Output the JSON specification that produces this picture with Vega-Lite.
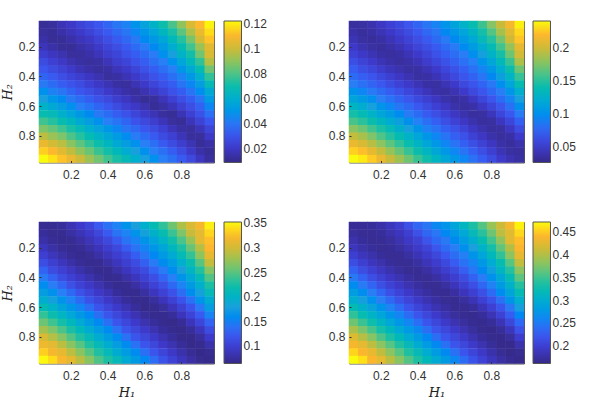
{"$schema":"https://vega.github.io/schema/vega-lite/v6.json","padding":{"left":0,"top":20,"right":0,"bottom":0},"background":"white","bounds":"flush","spacing":{"row":59,"column":135},"columns":2,"resolve":{"scale":{"color":"independent"}},
"config":{"view":{"stroke":"#555","strokeWidth":1},"axisX":{"labelPadding":9,"titlePadding":5},"axisY":{"labelPadding":6,"titlePadding":4},"axis":{"labelFont":"Liberation Sans","labelFontSize":12,"labelColor":"#333","domain":false,"tickColor":"#333","tickSize":-2,"labelAngle":0,"titleFont":"DejaVu Serif","titleFontStyle":"italic","titleFontWeight":"normal","titleFontSize":13,"titleColor":"#222"},"legend":{"labelFont":"Liberation Sans","labelFontSize":12,"labelColor":"#333","labelOffset":6}},
"datasets":{
"p1":[
{"x":0.05,"y":0.05,"v":0.012},{"x":0.1,"y":0.05,"v":0.013},{"x":0.15,"y":0.05,"v":0.017},{"x":0.2,"y":0.05,"v":0.02},{"x":0.25,"y":0.05,"v":0.024},{"x":0.3,"y":0.05,"v":0.027},{"x":0.35,"y":0.05,"v":0.031},{"x":0.4,"y":0.05,"v":0.035},{"x":0.45,"y":0.05,"v":0.04},{"x":0.5,"y":0.05,"v":0.044},{"x":0.55,"y":0.05,"v":0.049},{"x":0.6,"y":0.05,"v":0.055},{"x":0.65,"y":0.05,"v":0.062},{"x":0.7,"y":0.05,"v":0.07},{"x":0.75,"y":0.05,"v":0.079},{"x":0.8,"y":0.05,"v":0.09},{"x":0.85,"y":0.05,"v":0.103},{"x":0.9,"y":0.05,"v":0.111},{"x":0.95,"y":0.05,"v":0.121},
{"x":0.05,"y":0.1,"v":0.013},{"x":0.1,"y":0.1,"v":0.012},{"x":0.15,"y":0.1,"v":0.015},{"x":0.2,"y":0.1,"v":0.018},{"x":0.25,"y":0.1,"v":0.021},{"x":0.3,"y":0.1,"v":0.024},{"x":0.35,"y":0.1,"v":0.028},{"x":0.4,"y":0.1,"v":0.032},{"x":0.45,"y":0.1,"v":0.036},{"x":0.5,"y":0.1,"v":0.04},{"x":0.55,"y":0.1,"v":0.045},{"x":0.6,"y":0.1,"v":0.05},{"x":0.65,"y":0.1,"v":0.056},{"x":0.7,"y":0.1,"v":0.064},{"x":0.75,"y":0.1,"v":0.072},{"x":0.8,"y":0.1,"v":0.082},{"x":0.85,"y":0.1,"v":0.095},{"x":0.9,"y":0.1,"v":0.107},{"x":0.95,"y":0.1,"v":0.117},
{"x":0.05,"y":0.15,"v":0.015},{"x":0.1,"y":0.15,"v":0.012},{"x":0.15,"y":0.15,"v":0.012},{"x":0.2,"y":0.15,"v":0.015},{"x":0.25,"y":0.15,"v":0.018},{"x":0.3,"y":0.15,"v":0.02},{"x":0.35,"y":0.15,"v":0.024},{"x":0.4,"y":0.15,"v":0.028},{"x":0.45,"y":0.15,"v":0.032},{"x":0.5,"y":0.15,"v":0.036},{"x":0.55,"y":0.15,"v":0.041},{"x":0.6,"y":0.15,"v":0.046},{"x":0.65,"y":0.15,"v":0.051},{"x":0.7,"y":0.15,"v":0.057},{"x":0.75,"y":0.15,"v":0.065},{"x":0.8,"y":0.15,"v":0.074},{"x":0.85,"y":0.15,"v":0.086},{"x":0.9,"y":0.15,"v":0.102},{"x":0.95,"y":0.15,"v":0.113},
{"x":0.05,"y":0.2,"v":0.018},{"x":0.1,"y":0.2,"v":0.015},{"x":0.15,"y":0.2,"v":0.012},{"x":0.2,"y":0.2,"v":0.012},{"x":0.25,"y":0.2,"v":0.015},{"x":0.3,"y":0.2,"v":0.017},{"x":0.35,"y":0.2,"v":0.021},{"x":0.4,"y":0.2,"v":0.025},{"x":0.45,"y":0.2,"v":0.028},{"x":0.5,"y":0.2,"v":0.032},{"x":0.55,"y":0.2,"v":0.037},{"x":0.6,"y":0.2,"v":0.042},{"x":0.65,"y":0.2,"v":0.046},{"x":0.7,"y":0.2,"v":0.052},{"x":0.75,"y":0.2,"v":0.059},{"x":0.8,"y":0.2,"v":0.068},{"x":0.85,"y":0.2,"v":0.078},{"x":0.9,"y":0.2,"v":0.092},{"x":0.95,"y":0.2,"v":0.105},
{"x":0.05,"y":0.25,"v":0.022},{"x":0.1,"y":0.25,"v":0.019},{"x":0.15,"y":0.25,"v":0.016},{"x":0.2,"y":0.25,"v":0.013},{"x":0.25,"y":0.25,"v":0.013},{"x":0.3,"y":0.25,"v":0.015},{"x":0.35,"y":0.25,"v":0.018},{"x":0.4,"y":0.25,"v":0.022},{"x":0.45,"y":0.25,"v":0.025},{"x":0.5,"y":0.25,"v":0.029},{"x":0.55,"y":0.25,"v":0.033},{"x":0.6,"y":0.25,"v":0.037},{"x":0.65,"y":0.25,"v":0.042},{"x":0.7,"y":0.25,"v":0.048},{"x":0.75,"y":0.25,"v":0.054},{"x":0.8,"y":0.25,"v":0.062},{"x":0.85,"y":0.25,"v":0.071},{"x":0.9,"y":0.25,"v":0.085},{"x":0.95,"y":0.25,"v":0.103},
{"x":0.05,"y":0.3,"v":0.027},{"x":0.1,"y":0.3,"v":0.023},{"x":0.15,"y":0.3,"v":0.02},{"x":0.2,"y":0.3,"v":0.016},{"x":0.25,"y":0.3,"v":0.014},{"x":0.3,"y":0.3,"v":0.013},{"x":0.35,"y":0.3,"v":0.014},{"x":0.4,"y":0.3,"v":0.018},{"x":0.45,"y":0.3,"v":0.022},{"x":0.5,"y":0.3,"v":0.025},{"x":0.55,"y":0.3,"v":0.029},{"x":0.6,"y":0.3,"v":0.033},{"x":0.65,"y":0.3,"v":0.038},{"x":0.7,"y":0.3,"v":0.043},{"x":0.75,"y":0.3,"v":0.048},{"x":0.8,"y":0.3,"v":0.056},{"x":0.85,"y":0.3,"v":0.065},{"x":0.9,"y":0.3,"v":0.076},{"x":0.95,"y":0.3,"v":0.096},
{"x":0.05,"y":0.35,"v":0.031},{"x":0.1,"y":0.35,"v":0.027},{"x":0.15,"y":0.35,"v":0.024},{"x":0.2,"y":0.35,"v":0.021},{"x":0.25,"y":0.35,"v":0.017},{"x":0.3,"y":0.35,"v":0.015},{"x":0.35,"y":0.35,"v":0.013},{"x":0.4,"y":0.35,"v":0.014},{"x":0.45,"y":0.35,"v":0.018},{"x":0.5,"y":0.35,"v":0.021},{"x":0.55,"y":0.35,"v":0.025},{"x":0.6,"y":0.35,"v":0.029},{"x":0.65,"y":0.35,"v":0.033},{"x":0.7,"y":0.35,"v":0.038},{"x":0.75,"y":0.35,"v":0.043},{"x":0.8,"y":0.35,"v":0.05},{"x":0.85,"y":0.35,"v":0.058},{"x":0.9,"y":0.35,"v":0.068},{"x":0.95,"y":0.35,"v":0.085},
{"x":0.05,"y":0.4,"v":0.035},{"x":0.1,"y":0.4,"v":0.032},{"x":0.15,"y":0.4,"v":0.028},{"x":0.2,"y":0.4,"v":0.025},{"x":0.25,"y":0.4,"v":0.022},{"x":0.3,"y":0.4,"v":0.019},{"x":0.35,"y":0.4,"v":0.016},{"x":0.4,"y":0.4,"v":0.013},{"x":0.45,"y":0.4,"v":0.014},{"x":0.5,"y":0.4,"v":0.017},{"x":0.55,"y":0.4,"v":0.021},{"x":0.6,"y":0.4,"v":0.025},{"x":0.65,"y":0.4,"v":0.029},{"x":0.7,"y":0.4,"v":0.033},{"x":0.75,"y":0.4,"v":0.038},{"x":0.8,"y":0.4,"v":0.044},{"x":0.85,"y":0.4,"v":0.051},{"x":0.9,"y":0.4,"v":0.06},{"x":0.95,"y":0.4,"v":0.076},
{"x":0.05,"y":0.45,"v":0.041},{"x":0.1,"y":0.45,"v":0.037},{"x":0.15,"y":0.45,"v":0.033},{"x":0.2,"y":0.45,"v":0.03},{"x":0.25,"y":0.45,"v":0.027},{"x":0.3,"y":0.45,"v":0.023},{"x":0.35,"y":0.45,"v":0.02},{"x":0.4,"y":0.45,"v":0.017},{"x":0.45,"y":0.45,"v":0.014},{"x":0.5,"y":0.45,"v":0.013},{"x":0.55,"y":0.45,"v":0.017},{"x":0.6,"y":0.45,"v":0.021},{"x":0.65,"y":0.45,"v":0.025},{"x":0.7,"y":0.45,"v":0.029},{"x":0.75,"y":0.45,"v":0.033},{"x":0.8,"y":0.45,"v":0.039},{"x":0.85,"y":0.45,"v":0.045},{"x":0.9,"y":0.45,"v":0.053},{"x":0.95,"y":0.45,"v":0.066},
{"x":0.05,"y":0.5,"v":0.048},{"x":0.1,"y":0.5,"v":0.044},{"x":0.15,"y":0.5,"v":0.04},{"x":0.2,"y":0.5,"v":0.035},{"x":0.25,"y":0.5,"v":0.031},{"x":0.3,"y":0.5,"v":0.028},{"x":0.35,"y":0.5,"v":0.025},{"x":0.4,"y":0.5,"v":0.021},{"x":0.45,"y":0.5,"v":0.018},{"x":0.5,"y":0.5,"v":0.015},{"x":0.55,"y":0.5,"v":0.013},{"x":0.6,"y":0.5,"v":0.016},{"x":0.65,"y":0.5,"v":0.02},{"x":0.7,"y":0.5,"v":0.024},{"x":0.75,"y":0.5,"v":0.029},{"x":0.8,"y":0.5,"v":0.033},{"x":0.85,"y":0.5,"v":0.039},{"x":0.9,"y":0.5,"v":0.047},{"x":0.95,"y":0.5,"v":0.058},
{"x":0.05,"y":0.55,"v":0.054},{"x":0.1,"y":0.55,"v":0.05},{"x":0.15,"y":0.55,"v":0.046},{"x":0.2,"y":0.55,"v":0.041},{"x":0.25,"y":0.55,"v":0.037},{"x":0.3,"y":0.55,"v":0.033},{"x":0.35,"y":0.55,"v":0.029},{"x":0.4,"y":0.55,"v":0.026},{"x":0.45,"y":0.55,"v":0.022},{"x":0.5,"y":0.55,"v":0.019},{"x":0.55,"y":0.55,"v":0.015},{"x":0.6,"y":0.55,"v":0.012},{"x":0.65,"y":0.55,"v":0.013},{"x":0.7,"y":0.55,"v":0.018},{"x":0.75,"y":0.55,"v":0.023},{"x":0.8,"y":0.55,"v":0.028},{"x":0.85,"y":0.55,"v":0.033},{"x":0.9,"y":0.55,"v":0.04},{"x":0.95,"y":0.55,"v":0.052},
{"x":0.05,"y":0.6,"v":0.062},{"x":0.1,"y":0.6,"v":0.058},{"x":0.15,"y":0.6,"v":0.053},{"x":0.2,"y":0.6,"v":0.048},{"x":0.25,"y":0.6,"v":0.043},{"x":0.3,"y":0.6,"v":0.039},{"x":0.35,"y":0.6,"v":0.035},{"x":0.4,"y":0.6,"v":0.031},{"x":0.45,"y":0.6,"v":0.027},{"x":0.5,"y":0.6,"v":0.023},{"x":0.55,"y":0.6,"v":0.02},{"x":0.6,"y":0.6,"v":0.016},{"x":0.65,"y":0.6,"v":0.012},{"x":0.7,"y":0.6,"v":0.014},{"x":0.75,"y":0.6,"v":0.018},{"x":0.8,"y":0.6,"v":0.023},{"x":0.85,"y":0.6,"v":0.028},{"x":0.9,"y":0.6,"v":0.034},{"x":0.95,"y":0.6,"v":0.045},
{"x":0.05,"y":0.65,"v":0.069},{"x":0.1,"y":0.65,"v":0.066},{"x":0.15,"y":0.65,"v":0.061},{"x":0.2,"y":0.65,"v":0.056},{"x":0.25,"y":0.65,"v":0.051},{"x":0.3,"y":0.65,"v":0.046},{"x":0.35,"y":0.65,"v":0.041},{"x":0.4,"y":0.65,"v":0.037},{"x":0.45,"y":0.65,"v":0.033},{"x":0.5,"y":0.65,"v":0.029},{"x":0.55,"y":0.65,"v":0.025},{"x":0.6,"y":0.65,"v":0.021},{"x":0.65,"y":0.65,"v":0.017},{"x":0.7,"y":0.65,"v":0.013},{"x":0.75,"y":0.65,"v":0.012},{"x":0.8,"y":0.65,"v":0.017},{"x":0.85,"y":0.65,"v":0.023},{"x":0.9,"y":0.65,"v":0.029},{"x":0.95,"y":0.65,"v":0.038},
{"x":0.05,"y":0.7,"v":0.078},{"x":0.1,"y":0.7,"v":0.074},{"x":0.15,"y":0.7,"v":0.069},{"x":0.2,"y":0.7,"v":0.064},{"x":0.25,"y":0.7,"v":0.058},{"x":0.3,"y":0.7,"v":0.053},{"x":0.35,"y":0.7,"v":0.048},{"x":0.4,"y":0.7,"v":0.043},{"x":0.45,"y":0.7,"v":0.039},{"x":0.5,"y":0.7,"v":0.035},{"x":0.55,"y":0.7,"v":0.03},{"x":0.6,"y":0.7,"v":0.026},{"x":0.65,"y":0.7,"v":0.022},{"x":0.7,"y":0.7,"v":0.018},{"x":0.75,"y":0.7,"v":0.013},{"x":0.8,"y":0.7,"v":0.012},{"x":0.85,"y":0.7,"v":0.018},{"x":0.9,"y":0.7,"v":0.024},{"x":0.95,"y":0.7,"v":0.031},
{"x":0.05,"y":0.75,"v":0.087},{"x":0.1,"y":0.75,"v":0.083},{"x":0.15,"y":0.75,"v":0.078},{"x":0.2,"y":0.75,"v":0.072},{"x":0.25,"y":0.75,"v":0.066},{"x":0.3,"y":0.75,"v":0.06},{"x":0.35,"y":0.75,"v":0.055},{"x":0.4,"y":0.75,"v":0.05},{"x":0.45,"y":0.75,"v":0.045},{"x":0.5,"y":0.75,"v":0.04},{"x":0.55,"y":0.75,"v":0.036},{"x":0.6,"y":0.75,"v":0.031},{"x":0.65,"y":0.75,"v":0.027},{"x":0.7,"y":0.75,"v":0.023},{"x":0.75,"y":0.75,"v":0.018},{"x":0.8,"y":0.75,"v":0.014},{"x":0.85,"y":0.75,"v":0.013},{"x":0.9,"y":0.75,"v":0.018},{"x":0.95,"y":0.75,"v":0.025},
{"x":0.05,"y":0.8,"v":0.097},{"x":0.1,"y":0.8,"v":0.092},{"x":0.15,"y":0.8,"v":0.087},{"x":0.2,"y":0.8,"v":0.08},{"x":0.25,"y":0.8,"v":0.074},{"x":0.3,"y":0.8,"v":0.068},{"x":0.35,"y":0.8,"v":0.062},{"x":0.4,"y":0.8,"v":0.057},{"x":0.45,"y":0.8,"v":0.052},{"x":0.5,"y":0.8,"v":0.047},{"x":0.55,"y":0.8,"v":0.042},{"x":0.6,"y":0.8,"v":0.037},{"x":0.65,"y":0.8,"v":0.032},{"x":0.7,"y":0.8,"v":0.027},{"x":0.75,"y":0.8,"v":0.023},{"x":0.8,"y":0.8,"v":0.018},{"x":0.85,"y":0.8,"v":0.013},{"x":0.9,"y":0.8,"v":0.013},{"x":0.95,"y":0.8,"v":0.02},
{"x":0.05,"y":0.85,"v":0.107},{"x":0.1,"y":0.85,"v":0.102},{"x":0.15,"y":0.85,"v":0.097},{"x":0.2,"y":0.85,"v":0.089},{"x":0.25,"y":0.85,"v":0.082},{"x":0.3,"y":0.85,"v":0.076},{"x":0.35,"y":0.85,"v":0.07},{"x":0.4,"y":0.85,"v":0.064},{"x":0.45,"y":0.85,"v":0.058},{"x":0.5,"y":0.85,"v":0.053},{"x":0.55,"y":0.85,"v":0.048},{"x":0.6,"y":0.85,"v":0.043},{"x":0.65,"y":0.85,"v":0.038},{"x":0.7,"y":0.85,"v":0.032},{"x":0.75,"y":0.85,"v":0.027},{"x":0.8,"y":0.85,"v":0.022},{"x":0.85,"y":0.85,"v":0.017},{"x":0.9,"y":0.85,"v":0.012},{"x":0.95,"y":0.85,"v":0.015},
{"x":0.05,"y":0.9,"v":0.115},{"x":0.1,"y":0.9,"v":0.111},{"x":0.15,"y":0.9,"v":0.105},{"x":0.2,"y":0.9,"v":0.098},{"x":0.25,"y":0.9,"v":0.09},{"x":0.3,"y":0.9,"v":0.084},{"x":0.35,"y":0.9,"v":0.077},{"x":0.4,"y":0.9,"v":0.071},{"x":0.45,"y":0.9,"v":0.065},{"x":0.5,"y":0.9,"v":0.059},{"x":0.55,"y":0.9,"v":0.054},{"x":0.6,"y":0.9,"v":0.048},{"x":0.65,"y":0.9,"v":0.043},{"x":0.7,"y":0.9,"v":0.038},{"x":0.75,"y":0.9,"v":0.033},{"x":0.8,"y":0.9,"v":0.027},{"x":0.85,"y":0.9,"v":0.021},{"x":0.9,"y":0.9,"v":0.015},{"x":0.95,"y":0.9,"v":0.012},
{"x":0.05,"y":0.95,"v":0.122},{"x":0.1,"y":0.95,"v":0.118},{"x":0.15,"y":0.95,"v":0.113},{"x":0.2,"y":0.95,"v":0.107},{"x":0.25,"y":0.95,"v":0.1},{"x":0.3,"y":0.95,"v":0.092},{"x":0.35,"y":0.95,"v":0.085},{"x":0.4,"y":0.95,"v":0.078},{"x":0.45,"y":0.95,"v":0.072},{"x":0.5,"y":0.95,"v":0.066},{"x":0.55,"y":0.95,"v":0.06},{"x":0.6,"y":0.95,"v":0.054},{"x":0.65,"y":0.95,"v":0.048},{"x":0.7,"y":0.95,"v":0.043},{"x":0.75,"y":0.95,"v":0.038},{"x":0.8,"y":0.95,"v":0.032},{"x":0.85,"y":0.95,"v":0.026},{"x":0.9,"y":0.95,"v":0.019},{"x":0.95,"y":0.95,"v":0.013}],
"p2":[
{"x":0.05,"y":0.05,"v":0.035},{"x":0.1,"y":0.05,"v":0.036},{"x":0.15,"y":0.05,"v":0.04},{"x":0.2,"y":0.05,"v":0.047},{"x":0.25,"y":0.05,"v":0.054},{"x":0.3,"y":0.05,"v":0.06},{"x":0.35,"y":0.05,"v":0.068},{"x":0.4,"y":0.05,"v":0.076},{"x":0.45,"y":0.05,"v":0.086},{"x":0.5,"y":0.05,"v":0.094},{"x":0.55,"y":0.05,"v":0.104},{"x":0.6,"y":0.05,"v":0.115},{"x":0.65,"y":0.05,"v":0.127},{"x":0.7,"y":0.05,"v":0.14},{"x":0.75,"y":0.05,"v":0.157},{"x":0.8,"y":0.05,"v":0.177},{"x":0.85,"y":0.05,"v":0.198},{"x":0.9,"y":0.05,"v":0.216},{"x":0.95,"y":0.05,"v":0.238},
{"x":0.05,"y":0.1,"v":0.038},{"x":0.1,"y":0.1,"v":0.034},{"x":0.15,"y":0.1,"v":0.037},{"x":0.2,"y":0.1,"v":0.042},{"x":0.25,"y":0.1,"v":0.048},{"x":0.3,"y":0.1,"v":0.055},{"x":0.35,"y":0.1,"v":0.062},{"x":0.4,"y":0.1,"v":0.07},{"x":0.45,"y":0.1,"v":0.078},{"x":0.5,"y":0.1,"v":0.086},{"x":0.55,"y":0.1,"v":0.096},{"x":0.6,"y":0.1,"v":0.106},{"x":0.65,"y":0.1,"v":0.116},{"x":0.7,"y":0.1,"v":0.129},{"x":0.75,"y":0.1,"v":0.145},{"x":0.8,"y":0.1,"v":0.163},{"x":0.85,"y":0.1,"v":0.187},{"x":0.9,"y":0.1,"v":0.208},{"x":0.95,"y":0.1,"v":0.23},
{"x":0.05,"y":0.15,"v":0.042},{"x":0.1,"y":0.15,"v":0.036},{"x":0.15,"y":0.15,"v":0.034},{"x":0.2,"y":0.15,"v":0.037},{"x":0.25,"y":0.15,"v":0.043},{"x":0.3,"y":0.15,"v":0.049},{"x":0.35,"y":0.15,"v":0.056},{"x":0.4,"y":0.15,"v":0.063},{"x":0.45,"y":0.15,"v":0.071},{"x":0.5,"y":0.15,"v":0.079},{"x":0.55,"y":0.15,"v":0.088},{"x":0.6,"y":0.15,"v":0.097},{"x":0.65,"y":0.15,"v":0.107},{"x":0.7,"y":0.15,"v":0.119},{"x":0.75,"y":0.15,"v":0.134},{"x":0.8,"y":0.15,"v":0.15},{"x":0.85,"y":0.15,"v":0.172},{"x":0.9,"y":0.15,"v":0.2},{"x":0.95,"y":0.15,"v":0.224},
{"x":0.05,"y":0.2,"v":0.048},{"x":0.1,"y":0.2,"v":0.041},{"x":0.15,"y":0.2,"v":0.036},{"x":0.2,"y":0.2,"v":0.034},{"x":0.25,"y":0.2,"v":0.038},{"x":0.3,"y":0.2,"v":0.043},{"x":0.35,"y":0.2,"v":0.05},{"x":0.4,"y":0.2,"v":0.057},{"x":0.45,"y":0.2,"v":0.064},{"x":0.5,"y":0.2,"v":0.071},{"x":0.55,"y":0.2,"v":0.08},{"x":0.6,"y":0.2,"v":0.089},{"x":0.65,"y":0.2,"v":0.098},{"x":0.7,"y":0.2,"v":0.109},{"x":0.75,"y":0.2,"v":0.122},{"x":0.8,"y":0.2,"v":0.138},{"x":0.85,"y":0.2,"v":0.158},{"x":0.9,"y":0.2,"v":0.182},{"x":0.95,"y":0.2,"v":0.21},
{"x":0.05,"y":0.25,"v":0.055},{"x":0.1,"y":0.25,"v":0.048},{"x":0.15,"y":0.25,"v":0.042},{"x":0.2,"y":0.25,"v":0.037},{"x":0.25,"y":0.25,"v":0.035},{"x":0.3,"y":0.25,"v":0.037},{"x":0.35,"y":0.25,"v":0.043},{"x":0.4,"y":0.25,"v":0.05},{"x":0.45,"y":0.25,"v":0.057},{"x":0.5,"y":0.25,"v":0.065},{"x":0.55,"y":0.25,"v":0.073},{"x":0.6,"y":0.25,"v":0.081},{"x":0.65,"y":0.25,"v":0.09},{"x":0.7,"y":0.25,"v":0.1},{"x":0.75,"y":0.25,"v":0.112},{"x":0.8,"y":0.25,"v":0.127},{"x":0.85,"y":0.25,"v":0.145},{"x":0.9,"y":0.25,"v":0.17},{"x":0.95,"y":0.25,"v":0.202},
{"x":0.05,"y":0.3,"v":0.064},{"x":0.1,"y":0.3,"v":0.056},{"x":0.15,"y":0.3,"v":0.05},{"x":0.2,"y":0.3,"v":0.043},{"x":0.25,"y":0.3,"v":0.038},{"x":0.3,"y":0.3,"v":0.035},{"x":0.35,"y":0.3,"v":0.038},{"x":0.4,"y":0.3,"v":0.043},{"x":0.45,"y":0.3,"v":0.051},{"x":0.5,"y":0.3,"v":0.058},{"x":0.55,"y":0.3,"v":0.066},{"x":0.6,"y":0.3,"v":0.074},{"x":0.65,"y":0.3,"v":0.083},{"x":0.7,"y":0.3,"v":0.092},{"x":0.75,"y":0.3,"v":0.103},{"x":0.8,"y":0.3,"v":0.117},{"x":0.85,"y":0.3,"v":0.133},{"x":0.9,"y":0.3,"v":0.156},{"x":0.95,"y":0.3,"v":0.19},
{"x":0.05,"y":0.35,"v":0.072},{"x":0.1,"y":0.35,"v":0.064},{"x":0.15,"y":0.35,"v":0.058},{"x":0.2,"y":0.35,"v":0.051},{"x":0.25,"y":0.35,"v":0.045},{"x":0.3,"y":0.35,"v":0.04},{"x":0.35,"y":0.35,"v":0.036},{"x":0.4,"y":0.35,"v":0.037},{"x":0.45,"y":0.35,"v":0.043},{"x":0.5,"y":0.35,"v":0.05},{"x":0.55,"y":0.35,"v":0.058},{"x":0.6,"y":0.35,"v":0.066},{"x":0.65,"y":0.35,"v":0.074},{"x":0.7,"y":0.35,"v":0.083},{"x":0.75,"y":0.35,"v":0.094},{"x":0.8,"y":0.35,"v":0.106},{"x":0.85,"y":0.35,"v":0.122},{"x":0.9,"y":0.35,"v":0.142},{"x":0.95,"y":0.35,"v":0.17},
{"x":0.05,"y":0.4,"v":0.08},{"x":0.1,"y":0.4,"v":0.073},{"x":0.15,"y":0.4,"v":0.067},{"x":0.2,"y":0.4,"v":0.06},{"x":0.25,"y":0.4,"v":0.053},{"x":0.3,"y":0.4,"v":0.047},{"x":0.35,"y":0.4,"v":0.041},{"x":0.4,"y":0.4,"v":0.036},{"x":0.45,"y":0.4,"v":0.037},{"x":0.5,"y":0.4,"v":0.043},{"x":0.55,"y":0.4,"v":0.051},{"x":0.6,"y":0.4,"v":0.059},{"x":0.65,"y":0.4,"v":0.067},{"x":0.7,"y":0.4,"v":0.075},{"x":0.75,"y":0.4,"v":0.085},{"x":0.8,"y":0.4,"v":0.096},{"x":0.85,"y":0.4,"v":0.111},{"x":0.9,"y":0.4,"v":0.128},{"x":0.95,"y":0.4,"v":0.155},
{"x":0.05,"y":0.45,"v":0.09},{"x":0.1,"y":0.45,"v":0.083},{"x":0.15,"y":0.45,"v":0.076},{"x":0.2,"y":0.45,"v":0.069},{"x":0.25,"y":0.45,"v":0.062},{"x":0.3,"y":0.45,"v":0.055},{"x":0.35,"y":0.45,"v":0.049},{"x":0.4,"y":0.45,"v":0.043},{"x":0.45,"y":0.45,"v":0.037},{"x":0.5,"y":0.45,"v":0.036},{"x":0.55,"y":0.45,"v":0.042},{"x":0.6,"y":0.45,"v":0.05},{"x":0.65,"y":0.45,"v":0.059},{"x":0.7,"y":0.45,"v":0.067},{"x":0.75,"y":0.45,"v":0.076},{"x":0.8,"y":0.45,"v":0.087},{"x":0.85,"y":0.45,"v":0.1},{"x":0.9,"y":0.45,"v":0.116},{"x":0.95,"y":0.45,"v":0.14},
{"x":0.05,"y":0.5,"v":0.102},{"x":0.1,"y":0.5,"v":0.095},{"x":0.15,"y":0.5,"v":0.088},{"x":0.2,"y":0.5,"v":0.08},{"x":0.25,"y":0.5,"v":0.072},{"x":0.3,"y":0.5,"v":0.065},{"x":0.35,"y":0.5,"v":0.058},{"x":0.4,"y":0.5,"v":0.051},{"x":0.45,"y":0.5,"v":0.044},{"x":0.5,"y":0.5,"v":0.038},{"x":0.55,"y":0.5,"v":0.036},{"x":0.6,"y":0.5,"v":0.041},{"x":0.65,"y":0.5,"v":0.05},{"x":0.7,"y":0.5,"v":0.059},{"x":0.75,"y":0.5,"v":0.068},{"x":0.8,"y":0.5,"v":0.078},{"x":0.85,"y":0.5,"v":0.09},{"x":0.9,"y":0.5,"v":0.104},{"x":0.95,"y":0.5,"v":0.125},
{"x":0.05,"y":0.55,"v":0.115},{"x":0.1,"y":0.55,"v":0.108},{"x":0.15,"y":0.55,"v":0.1},{"x":0.2,"y":0.55,"v":0.091},{"x":0.25,"y":0.55,"v":0.083},{"x":0.3,"y":0.55,"v":0.075},{"x":0.35,"y":0.55,"v":0.068},{"x":0.4,"y":0.55,"v":0.06},{"x":0.45,"y":0.55,"v":0.053},{"x":0.5,"y":0.55,"v":0.046},{"x":0.55,"y":0.55,"v":0.039},{"x":0.6,"y":0.55,"v":0.035},{"x":0.65,"y":0.55,"v":0.038},{"x":0.7,"y":0.55,"v":0.047},{"x":0.75,"y":0.55,"v":0.058},{"x":0.8,"y":0.55,"v":0.068},{"x":0.85,"y":0.55,"v":0.08},{"x":0.9,"y":0.55,"v":0.094},{"x":0.95,"y":0.55,"v":0.113},
{"x":0.05,"y":0.6,"v":0.13},{"x":0.1,"y":0.6,"v":0.122},{"x":0.15,"y":0.6,"v":0.113},{"x":0.2,"y":0.6,"v":0.104},{"x":0.25,"y":0.6,"v":0.095},{"x":0.3,"y":0.6,"v":0.086},{"x":0.35,"y":0.6,"v":0.078},{"x":0.4,"y":0.6,"v":0.07},{"x":0.45,"y":0.6,"v":0.062},{"x":0.5,"y":0.6,"v":0.054},{"x":0.55,"y":0.6,"v":0.047},{"x":0.6,"y":0.6,"v":0.039},{"x":0.65,"y":0.6,"v":0.035},{"x":0.7,"y":0.6,"v":0.038},{"x":0.75,"y":0.6,"v":0.047},{"x":0.8,"y":0.6,"v":0.057},{"x":0.85,"y":0.6,"v":0.068},{"x":0.9,"y":0.6,"v":0.082},{"x":0.95,"y":0.6,"v":0.101},
{"x":0.05,"y":0.65,"v":0.145},{"x":0.1,"y":0.65,"v":0.137},{"x":0.15,"y":0.65,"v":0.127},{"x":0.2,"y":0.65,"v":0.117},{"x":0.25,"y":0.65,"v":0.108},{"x":0.3,"y":0.65,"v":0.098},{"x":0.35,"y":0.65,"v":0.089},{"x":0.4,"y":0.65,"v":0.08},{"x":0.45,"y":0.65,"v":0.071},{"x":0.5,"y":0.65,"v":0.063},{"x":0.55,"y":0.65,"v":0.055},{"x":0.6,"y":0.65,"v":0.047},{"x":0.65,"y":0.65,"v":0.04},{"x":0.7,"y":0.65,"v":0.035},{"x":0.75,"y":0.65,"v":0.036},{"x":0.8,"y":0.65,"v":0.045},{"x":0.85,"y":0.65,"v":0.058},{"x":0.9,"y":0.65,"v":0.07},{"x":0.95,"y":0.65,"v":0.088},
{"x":0.05,"y":0.7,"v":0.16},{"x":0.1,"y":0.7,"v":0.152},{"x":0.15,"y":0.7,"v":0.142},{"x":0.2,"y":0.7,"v":0.131},{"x":0.25,"y":0.7,"v":0.121},{"x":0.3,"y":0.7,"v":0.111},{"x":0.35,"y":0.7,"v":0.101},{"x":0.4,"y":0.7,"v":0.092},{"x":0.45,"y":0.7,"v":0.082},{"x":0.5,"y":0.7,"v":0.073},{"x":0.55,"y":0.7,"v":0.064},{"x":0.6,"y":0.7,"v":0.055},{"x":0.65,"y":0.7,"v":0.047},{"x":0.7,"y":0.7,"v":0.04},{"x":0.75,"y":0.7,"v":0.035},{"x":0.8,"y":0.7,"v":0.036},{"x":0.85,"y":0.7,"v":0.046},{"x":0.9,"y":0.7,"v":0.058},{"x":0.95,"y":0.7,"v":0.074},
{"x":0.05,"y":0.75,"v":0.178},{"x":0.1,"y":0.75,"v":0.17},{"x":0.15,"y":0.75,"v":0.158},{"x":0.2,"y":0.75,"v":0.147},{"x":0.25,"y":0.75,"v":0.135},{"x":0.3,"y":0.75,"v":0.124},{"x":0.35,"y":0.75,"v":0.113},{"x":0.4,"y":0.75,"v":0.103},{"x":0.45,"y":0.75,"v":0.093},{"x":0.5,"y":0.75,"v":0.084},{"x":0.55,"y":0.75,"v":0.074},{"x":0.6,"y":0.75,"v":0.065},{"x":0.65,"y":0.75,"v":0.056},{"x":0.7,"y":0.75,"v":0.047},{"x":0.75,"y":0.75,"v":0.04},{"x":0.8,"y":0.75,"v":0.035},{"x":0.85,"y":0.75,"v":0.036},{"x":0.9,"y":0.75,"v":0.047},{"x":0.95,"y":0.75,"v":0.062},
{"x":0.05,"y":0.8,"v":0.196},{"x":0.1,"y":0.8,"v":0.188},{"x":0.15,"y":0.8,"v":0.175},{"x":0.2,"y":0.8,"v":0.162},{"x":0.25,"y":0.8,"v":0.15},{"x":0.3,"y":0.8,"v":0.138},{"x":0.35,"y":0.8,"v":0.127},{"x":0.4,"y":0.8,"v":0.116},{"x":0.45,"y":0.8,"v":0.105},{"x":0.5,"y":0.8,"v":0.095},{"x":0.55,"y":0.8,"v":0.084},{"x":0.6,"y":0.8,"v":0.074},{"x":0.65,"y":0.8,"v":0.065},{"x":0.7,"y":0.8,"v":0.055},{"x":0.75,"y":0.8,"v":0.047},{"x":0.8,"y":0.8,"v":0.039},{"x":0.85,"y":0.8,"v":0.035},{"x":0.9,"y":0.8,"v":0.037},{"x":0.95,"y":0.8,"v":0.05},
{"x":0.05,"y":0.85,"v":0.212},{"x":0.1,"y":0.85,"v":0.205},{"x":0.15,"y":0.85,"v":0.193},{"x":0.2,"y":0.85,"v":0.179},{"x":0.25,"y":0.85,"v":0.165},{"x":0.3,"y":0.85,"v":0.153},{"x":0.35,"y":0.85,"v":0.141},{"x":0.4,"y":0.85,"v":0.129},{"x":0.45,"y":0.85,"v":0.117},{"x":0.5,"y":0.85,"v":0.106},{"x":0.55,"y":0.85,"v":0.095},{"x":0.6,"y":0.85,"v":0.084},{"x":0.65,"y":0.85,"v":0.074},{"x":0.7,"y":0.85,"v":0.064},{"x":0.75,"y":0.85,"v":0.055},{"x":0.8,"y":0.85,"v":0.046},{"x":0.85,"y":0.85,"v":0.038},{"x":0.9,"y":0.85,"v":0.034},{"x":0.95,"y":0.85,"v":0.04},
{"x":0.05,"y":0.9,"v":0.228},{"x":0.1,"y":0.9,"v":0.222},{"x":0.15,"y":0.9,"v":0.21},{"x":0.2,"y":0.9,"v":0.197},{"x":0.25,"y":0.9,"v":0.182},{"x":0.3,"y":0.9,"v":0.168},{"x":0.35,"y":0.9,"v":0.155},{"x":0.4,"y":0.9,"v":0.142},{"x":0.45,"y":0.9,"v":0.13},{"x":0.5,"y":0.9,"v":0.118},{"x":0.55,"y":0.9,"v":0.106},{"x":0.6,"y":0.9,"v":0.095},{"x":0.65,"y":0.9,"v":0.084},{"x":0.7,"y":0.9,"v":0.073},{"x":0.75,"y":0.9,"v":0.063},{"x":0.8,"y":0.9,"v":0.053},{"x":0.85,"y":0.9,"v":0.043},{"x":0.9,"y":0.9,"v":0.036},{"x":0.95,"y":0.9,"v":0.035},
{"x":0.05,"y":0.95,"v":0.241},{"x":0.1,"y":0.95,"v":0.236},{"x":0.15,"y":0.95,"v":0.226},{"x":0.2,"y":0.95,"v":0.212},{"x":0.25,"y":0.95,"v":0.198},{"x":0.3,"y":0.95,"v":0.185},{"x":0.35,"y":0.95,"v":0.17},{"x":0.4,"y":0.95,"v":0.156},{"x":0.45,"y":0.95,"v":0.143},{"x":0.5,"y":0.95,"v":0.13},{"x":0.55,"y":0.95,"v":0.118},{"x":0.6,"y":0.95,"v":0.106},{"x":0.65,"y":0.95,"v":0.095},{"x":0.7,"y":0.95,"v":0.083},{"x":0.75,"y":0.95,"v":0.072},{"x":0.8,"y":0.95,"v":0.061},{"x":0.85,"y":0.95,"v":0.05},{"x":0.9,"y":0.95,"v":0.041},{"x":0.95,"y":0.95,"v":0.036}],
"p3":[
{"x":0.05,"y":0.05,"v":0.07},{"x":0.1,"y":0.05,"v":0.07},{"x":0.15,"y":0.05,"v":0.074},{"x":0.2,"y":0.05,"v":0.084},{"x":0.25,"y":0.05,"v":0.095},{"x":0.3,"y":0.05,"v":0.105},{"x":0.35,"y":0.05,"v":0.123},{"x":0.4,"y":0.05,"v":0.14},{"x":0.45,"y":0.05,"v":0.154},{"x":0.5,"y":0.05,"v":0.167},{"x":0.55,"y":0.05,"v":0.18},{"x":0.6,"y":0.05,"v":0.195},{"x":0.65,"y":0.05,"v":0.215},{"x":0.7,"y":0.05,"v":0.235},{"x":0.75,"y":0.05,"v":0.258},{"x":0.8,"y":0.05,"v":0.284},{"x":0.85,"y":0.05,"v":0.304},{"x":0.9,"y":0.05,"v":0.32},{"x":0.95,"y":0.05,"v":0.348},
{"x":0.05,"y":0.1,"v":0.074},{"x":0.1,"y":0.1,"v":0.069},{"x":0.15,"y":0.1,"v":0.07},{"x":0.2,"y":0.1,"v":0.077},{"x":0.25,"y":0.1,"v":0.086},{"x":0.3,"y":0.1,"v":0.096},{"x":0.35,"y":0.1,"v":0.107},{"x":0.4,"y":0.1,"v":0.124},{"x":0.45,"y":0.1,"v":0.142},{"x":0.5,"y":0.1,"v":0.154},{"x":0.55,"y":0.1,"v":0.167},{"x":0.6,"y":0.1,"v":0.181},{"x":0.65,"y":0.1,"v":0.198},{"x":0.7,"y":0.1,"v":0.217},{"x":0.75,"y":0.1,"v":0.239},{"x":0.8,"y":0.1,"v":0.264},{"x":0.85,"y":0.1,"v":0.295},{"x":0.9,"y":0.1,"v":0.31},{"x":0.95,"y":0.1,"v":0.338},
{"x":0.05,"y":0.15,"v":0.08},{"x":0.1,"y":0.15,"v":0.072},{"x":0.15,"y":0.15,"v":0.068},{"x":0.2,"y":0.15,"v":0.07},{"x":0.25,"y":0.15,"v":0.078},{"x":0.3,"y":0.15,"v":0.087},{"x":0.35,"y":0.15,"v":0.097},{"x":0.4,"y":0.15,"v":0.108},{"x":0.45,"y":0.15,"v":0.124},{"x":0.5,"y":0.15,"v":0.142},{"x":0.55,"y":0.15,"v":0.155},{"x":0.6,"y":0.15,"v":0.168},{"x":0.65,"y":0.15,"v":0.183},{"x":0.7,"y":0.15,"v":0.201},{"x":0.75,"y":0.15,"v":0.222},{"x":0.8,"y":0.15,"v":0.245},{"x":0.85,"y":0.15,"v":0.274},{"x":0.9,"y":0.15,"v":0.31},{"x":0.95,"y":0.15,"v":0.328},
{"x":0.05,"y":0.2,"v":0.089},{"x":0.1,"y":0.2,"v":0.079},{"x":0.15,"y":0.2,"v":0.072},{"x":0.2,"y":0.2,"v":0.068},{"x":0.25,"y":0.2,"v":0.071},{"x":0.3,"y":0.2,"v":0.079},{"x":0.35,"y":0.2,"v":0.088},{"x":0.4,"y":0.2,"v":0.098},{"x":0.45,"y":0.2,"v":0.108},{"x":0.5,"y":0.2,"v":0.125},{"x":0.55,"y":0.2,"v":0.143},{"x":0.6,"y":0.2,"v":0.156},{"x":0.65,"y":0.2,"v":0.17},{"x":0.7,"y":0.2,"v":0.186},{"x":0.75,"y":0.2,"v":0.205},{"x":0.8,"y":0.2,"v":0.227},{"x":0.85,"y":0.2,"v":0.255},{"x":0.9,"y":0.2,"v":0.287},{"x":0.95,"y":0.2,"v":0.324},
{"x":0.05,"y":0.25,"v":0.1},{"x":0.1,"y":0.25,"v":0.089},{"x":0.15,"y":0.25,"v":0.079},{"x":0.2,"y":0.25,"v":0.072},{"x":0.25,"y":0.25,"v":0.068},{"x":0.3,"y":0.25,"v":0.071},{"x":0.35,"y":0.25,"v":0.079},{"x":0.4,"y":0.25,"v":0.089},{"x":0.45,"y":0.25,"v":0.099},{"x":0.5,"y":0.25,"v":0.109},{"x":0.55,"y":0.25,"v":0.126},{"x":0.6,"y":0.25,"v":0.144},{"x":0.65,"y":0.25,"v":0.158},{"x":0.7,"y":0.25,"v":0.173},{"x":0.75,"y":0.25,"v":0.19},{"x":0.8,"y":0.25,"v":0.211},{"x":0.85,"y":0.25,"v":0.236},{"x":0.9,"y":0.25,"v":0.27},{"x":0.95,"y":0.25,"v":0.312},
{"x":0.05,"y":0.3,"v":0.113},{"x":0.1,"y":0.3,"v":0.1},{"x":0.15,"y":0.3,"v":0.09},{"x":0.2,"y":0.3,"v":0.08},{"x":0.25,"y":0.3,"v":0.072},{"x":0.3,"y":0.3,"v":0.068},{"x":0.35,"y":0.3,"v":0.07},{"x":0.4,"y":0.3,"v":0.079},{"x":0.45,"y":0.3,"v":0.09},{"x":0.5,"y":0.3,"v":0.1},{"x":0.55,"y":0.3,"v":0.111},{"x":0.6,"y":0.3,"v":0.128},{"x":0.65,"y":0.3,"v":0.147},{"x":0.7,"y":0.3,"v":0.161},{"x":0.75,"y":0.3,"v":0.176},{"x":0.8,"y":0.3,"v":0.195},{"x":0.85,"y":0.3,"v":0.219},{"x":0.9,"y":0.3,"v":0.25},{"x":0.95,"y":0.3,"v":0.294},
{"x":0.05,"y":0.35,"v":0.13},{"x":0.1,"y":0.35,"v":0.112},{"x":0.15,"y":0.35,"v":0.101},{"x":0.2,"y":0.35,"v":0.091},{"x":0.25,"y":0.35,"v":0.081},{"x":0.3,"y":0.35,"v":0.073},{"x":0.35,"y":0.35,"v":0.068},{"x":0.4,"y":0.35,"v":0.07},{"x":0.45,"y":0.35,"v":0.079},{"x":0.5,"y":0.35,"v":0.09},{"x":0.55,"y":0.35,"v":0.101},{"x":0.6,"y":0.35,"v":0.112},{"x":0.65,"y":0.35,"v":0.13},{"x":0.7,"y":0.35,"v":0.149},{"x":0.75,"y":0.35,"v":0.163},{"x":0.8,"y":0.35,"v":0.18},{"x":0.85,"y":0.35,"v":0.203},{"x":0.9,"y":0.35,"v":0.23},{"x":0.95,"y":0.35,"v":0.267},
{"x":0.05,"y":0.4,"v":0.148},{"x":0.1,"y":0.4,"v":0.13},{"x":0.15,"y":0.4,"v":0.113},{"x":0.2,"y":0.4,"v":0.102},{"x":0.25,"y":0.4,"v":0.092},{"x":0.3,"y":0.4,"v":0.082},{"x":0.35,"y":0.4,"v":0.074},{"x":0.4,"y":0.4,"v":0.068},{"x":0.45,"y":0.4,"v":0.07},{"x":0.5,"y":0.4,"v":0.079},{"x":0.55,"y":0.4,"v":0.09},{"x":0.6,"y":0.4,"v":0.102},{"x":0.65,"y":0.4,"v":0.114},{"x":0.7,"y":0.4,"v":0.132},{"x":0.75,"y":0.4,"v":0.152},{"x":0.8,"y":0.4,"v":0.167},{"x":0.85,"y":0.4,"v":0.188},{"x":0.9,"y":0.4,"v":0.212},{"x":0.95,"y":0.4,"v":0.247},
{"x":0.05,"y":0.45,"v":0.162},{"x":0.1,"y":0.45,"v":0.15},{"x":0.15,"y":0.45,"v":0.132},{"x":0.2,"y":0.45,"v":0.115},{"x":0.25,"y":0.45,"v":0.103},{"x":0.3,"y":0.45,"v":0.093},{"x":0.35,"y":0.45,"v":0.083},{"x":0.4,"y":0.45,"v":0.074},{"x":0.45,"y":0.45,"v":0.068},{"x":0.5,"y":0.45,"v":0.069},{"x":0.55,"y":0.45,"v":0.078},{"x":0.6,"y":0.45,"v":0.09},{"x":0.65,"y":0.45,"v":0.103},{"x":0.7,"y":0.45,"v":0.115},{"x":0.75,"y":0.45,"v":0.134},{"x":0.8,"y":0.45,"v":0.154},{"x":0.85,"y":0.45,"v":0.174},{"x":0.9,"y":0.45,"v":0.196},{"x":0.95,"y":0.45,"v":0.227},
{"x":0.05,"y":0.5,"v":0.177},{"x":0.1,"y":0.5,"v":0.165},{"x":0.15,"y":0.5,"v":0.152},{"x":0.2,"y":0.5,"v":0.134},{"x":0.25,"y":0.5,"v":0.116},{"x":0.3,"y":0.5,"v":0.105},{"x":0.35,"y":0.5,"v":0.094},{"x":0.4,"y":0.5,"v":0.084},{"x":0.45,"y":0.5,"v":0.074},{"x":0.5,"y":0.5,"v":0.068},{"x":0.55,"y":0.5,"v":0.068},{"x":0.6,"y":0.5,"v":0.077},{"x":0.65,"y":0.5,"v":0.09},{"x":0.7,"y":0.5,"v":0.103},{"x":0.75,"y":0.5,"v":0.116},{"x":0.8,"y":0.5,"v":0.137},{"x":0.85,"y":0.5,"v":0.161},{"x":0.9,"y":0.5,"v":0.181},{"x":0.95,"y":0.5,"v":0.21},
{"x":0.05,"y":0.55,"v":0.194},{"x":0.1,"y":0.55,"v":0.181},{"x":0.15,"y":0.55,"v":0.167},{"x":0.2,"y":0.55,"v":0.154},{"x":0.25,"y":0.55,"v":0.135},{"x":0.3,"y":0.55,"v":0.117},{"x":0.35,"y":0.55,"v":0.106},{"x":0.4,"y":0.55,"v":0.094},{"x":0.45,"y":0.55,"v":0.084},{"x":0.5,"y":0.55,"v":0.074},{"x":0.55,"y":0.55,"v":0.068},{"x":0.6,"y":0.55,"v":0.068},{"x":0.65,"y":0.55,"v":0.075},{"x":0.7,"y":0.55,"v":0.088},{"x":0.75,"y":0.55,"v":0.103},{"x":0.8,"y":0.55,"v":0.118},{"x":0.85,"y":0.55,"v":0.141},{"x":0.9,"y":0.55,"v":0.167},{"x":0.95,"y":0.55,"v":0.192},
{"x":0.05,"y":0.6,"v":0.215},{"x":0.1,"y":0.6,"v":0.2},{"x":0.15,"y":0.6,"v":0.184},{"x":0.2,"y":0.6,"v":0.17},{"x":0.25,"y":0.6,"v":0.156},{"x":0.3,"y":0.6,"v":0.137},{"x":0.35,"y":0.6,"v":0.118},{"x":0.4,"y":0.6,"v":0.106},{"x":0.45,"y":0.6,"v":0.095},{"x":0.5,"y":0.6,"v":0.084},{"x":0.55,"y":0.6,"v":0.074},{"x":0.6,"y":0.6,"v":0.067},{"x":0.65,"y":0.6,"v":0.068},{"x":0.7,"y":0.6,"v":0.075},{"x":0.75,"y":0.6,"v":0.088},{"x":0.8,"y":0.6,"v":0.103},{"x":0.85,"y":0.6,"v":0.12},{"x":0.9,"y":0.6,"v":0.146},{"x":0.95,"y":0.6,"v":0.177},
{"x":0.05,"y":0.65,"v":0.236},{"x":0.1,"y":0.65,"v":0.22},{"x":0.15,"y":0.65,"v":0.203},{"x":0.2,"y":0.65,"v":0.187},{"x":0.25,"y":0.65,"v":0.172},{"x":0.3,"y":0.65,"v":0.158},{"x":0.35,"y":0.65,"v":0.138},{"x":0.4,"y":0.65,"v":0.119},{"x":0.45,"y":0.65,"v":0.107},{"x":0.5,"y":0.65,"v":0.095},{"x":0.55,"y":0.65,"v":0.084},{"x":0.6,"y":0.65,"v":0.074},{"x":0.65,"y":0.65,"v":0.068},{"x":0.7,"y":0.65,"v":0.068},{"x":0.75,"y":0.65,"v":0.074},{"x":0.8,"y":0.65,"v":0.088},{"x":0.85,"y":0.65,"v":0.104},{"x":0.9,"y":0.65,"v":0.124},{"x":0.95,"y":0.65,"v":0.155},
{"x":0.05,"y":0.7,"v":0.257},{"x":0.1,"y":0.7,"v":0.241},{"x":0.15,"y":0.7,"v":0.224},{"x":0.2,"y":0.7,"v":0.207},{"x":0.25,"y":0.7,"v":0.19},{"x":0.3,"y":0.7,"v":0.174},{"x":0.35,"y":0.7,"v":0.159},{"x":0.4,"y":0.7,"v":0.139},{"x":0.45,"y":0.7,"v":0.12},{"x":0.5,"y":0.7,"v":0.107},{"x":0.55,"y":0.7,"v":0.095},{"x":0.6,"y":0.7,"v":0.083},{"x":0.65,"y":0.7,"v":0.074},{"x":0.7,"y":0.7,"v":0.068},{"x":0.75,"y":0.7,"v":0.067},{"x":0.8,"y":0.7,"v":0.072},{"x":0.85,"y":0.7,"v":0.088},{"x":0.9,"y":0.7,"v":0.106},{"x":0.95,"y":0.7,"v":0.13},
{"x":0.05,"y":0.75,"v":0.28},{"x":0.1,"y":0.75,"v":0.264},{"x":0.15,"y":0.75,"v":0.245},{"x":0.2,"y":0.75,"v":0.226},{"x":0.25,"y":0.75,"v":0.208},{"x":0.3,"y":0.75,"v":0.191},{"x":0.35,"y":0.75,"v":0.175},{"x":0.4,"y":0.75,"v":0.16},{"x":0.45,"y":0.75,"v":0.14},{"x":0.5,"y":0.75,"v":0.12},{"x":0.55,"y":0.75,"v":0.107},{"x":0.6,"y":0.75,"v":0.095},{"x":0.65,"y":0.75,"v":0.084},{"x":0.7,"y":0.75,"v":0.074},{"x":0.75,"y":0.75,"v":0.068},{"x":0.8,"y":0.75,"v":0.067},{"x":0.85,"y":0.75,"v":0.074},{"x":0.9,"y":0.75,"v":0.09},{"x":0.95,"y":0.75,"v":0.112},
{"x":0.05,"y":0.8,"v":0.304},{"x":0.1,"y":0.8,"v":0.287},{"x":0.15,"y":0.8,"v":0.267},{"x":0.2,"y":0.8,"v":0.247},{"x":0.25,"y":0.8,"v":0.228},{"x":0.3,"y":0.8,"v":0.21},{"x":0.35,"y":0.8,"v":0.192},{"x":0.4,"y":0.8,"v":0.176},{"x":0.45,"y":0.8,"v":0.16},{"x":0.5,"y":0.8,"v":0.14},{"x":0.55,"y":0.8,"v":0.12},{"x":0.6,"y":0.8,"v":0.107},{"x":0.65,"y":0.8,"v":0.095},{"x":0.7,"y":0.8,"v":0.083},{"x":0.75,"y":0.8,"v":0.074},{"x":0.8,"y":0.8,"v":0.067},{"x":0.85,"y":0.8,"v":0.067},{"x":0.9,"y":0.8,"v":0.076},{"x":0.95,"y":0.8,"v":0.096},
{"x":0.05,"y":0.85,"v":0.315},{"x":0.1,"y":0.85,"v":0.31},{"x":0.15,"y":0.85,"v":0.29},{"x":0.2,"y":0.85,"v":0.269},{"x":0.25,"y":0.85,"v":0.249},{"x":0.3,"y":0.85,"v":0.229},{"x":0.35,"y":0.85,"v":0.21},{"x":0.4,"y":0.85,"v":0.193},{"x":0.45,"y":0.85,"v":0.177},{"x":0.5,"y":0.85,"v":0.161},{"x":0.55,"y":0.85,"v":0.14},{"x":0.6,"y":0.85,"v":0.12},{"x":0.65,"y":0.85,"v":0.107},{"x":0.7,"y":0.85,"v":0.094},{"x":0.75,"y":0.85,"v":0.083},{"x":0.8,"y":0.85,"v":0.073},{"x":0.85,"y":0.85,"v":0.067},{"x":0.9,"y":0.85,"v":0.068},{"x":0.95,"y":0.85,"v":0.081},
{"x":0.05,"y":0.9,"v":0.335},{"x":0.1,"y":0.9,"v":0.32},{"x":0.15,"y":0.9,"v":0.312},{"x":0.2,"y":0.9,"v":0.29},{"x":0.25,"y":0.9,"v":0.269},{"x":0.3,"y":0.9,"v":0.248},{"x":0.35,"y":0.9,"v":0.228},{"x":0.4,"y":0.9,"v":0.21},{"x":0.45,"y":0.9,"v":0.192},{"x":0.5,"y":0.9,"v":0.176},{"x":0.55,"y":0.9,"v":0.16},{"x":0.6,"y":0.9,"v":0.139},{"x":0.65,"y":0.9,"v":0.119},{"x":0.7,"y":0.9,"v":0.105},{"x":0.75,"y":0.9,"v":0.093},{"x":0.8,"y":0.9,"v":0.081},{"x":0.85,"y":0.9,"v":0.071},{"x":0.9,"y":0.9,"v":0.066},{"x":0.95,"y":0.9,"v":0.07},
{"x":0.05,"y":0.95,"v":0.352},{"x":0.1,"y":0.95,"v":0.34},{"x":0.15,"y":0.95,"v":0.322},{"x":0.2,"y":0.95,"v":0.311},{"x":0.25,"y":0.95,"v":0.289},{"x":0.3,"y":0.95,"v":0.267},{"x":0.35,"y":0.95,"v":0.246},{"x":0.4,"y":0.95,"v":0.227},{"x":0.45,"y":0.95,"v":0.209},{"x":0.5,"y":0.95,"v":0.191},{"x":0.55,"y":0.95,"v":0.174},{"x":0.6,"y":0.95,"v":0.158},{"x":0.65,"y":0.95,"v":0.137},{"x":0.7,"y":0.95,"v":0.117},{"x":0.75,"y":0.95,"v":0.103},{"x":0.8,"y":0.95,"v":0.09},{"x":0.85,"y":0.95,"v":0.078},{"x":0.9,"y":0.95,"v":0.069},{"x":0.95,"y":0.95,"v":0.067}],
"p4":[
{"x":0.05,"y":0.05,"v":0.17},{"x":0.1,"y":0.05,"v":0.17},{"x":0.15,"y":0.05,"v":0.172},{"x":0.2,"y":0.05,"v":0.178},{"x":0.25,"y":0.05,"v":0.188},{"x":0.3,"y":0.05,"v":0.198},{"x":0.35,"y":0.05,"v":0.216},{"x":0.4,"y":0.05,"v":0.234},{"x":0.45,"y":0.05,"v":0.247},{"x":0.5,"y":0.05,"v":0.261},{"x":0.55,"y":0.05,"v":0.274},{"x":0.6,"y":0.05,"v":0.291},{"x":0.65,"y":0.05,"v":0.312},{"x":0.7,"y":0.05,"v":0.335},{"x":0.75,"y":0.05,"v":0.359},{"x":0.8,"y":0.05,"v":0.388},{"x":0.85,"y":0.05,"v":0.412},{"x":0.9,"y":0.05,"v":0.436},{"x":0.95,"y":0.05,"v":0.468},
{"x":0.05,"y":0.1,"v":0.173},{"x":0.1,"y":0.1,"v":0.169},{"x":0.15,"y":0.1,"v":0.169},{"x":0.2,"y":0.1,"v":0.172},{"x":0.25,"y":0.1,"v":0.18},{"x":0.3,"y":0.1,"v":0.189},{"x":0.35,"y":0.1,"v":0.2},{"x":0.4,"y":0.1,"v":0.217},{"x":0.45,"y":0.1,"v":0.235},{"x":0.5,"y":0.1,"v":0.248},{"x":0.55,"y":0.1,"v":0.262},{"x":0.6,"y":0.1,"v":0.277},{"x":0.65,"y":0.1,"v":0.295},{"x":0.7,"y":0.1,"v":0.317},{"x":0.75,"y":0.1,"v":0.342},{"x":0.8,"y":0.1,"v":0.37},{"x":0.85,"y":0.1,"v":0.404},{"x":0.9,"y":0.1,"v":0.424},{"x":0.95,"y":0.1,"v":0.456},
{"x":0.05,"y":0.15,"v":0.18},{"x":0.1,"y":0.15,"v":0.172},{"x":0.15,"y":0.15,"v":0.168},{"x":0.2,"y":0.15,"v":0.169},{"x":0.25,"y":0.15,"v":0.173},{"x":0.3,"y":0.15,"v":0.182},{"x":0.35,"y":0.15,"v":0.192},{"x":0.4,"y":0.15,"v":0.203},{"x":0.45,"y":0.15,"v":0.22},{"x":0.5,"y":0.15,"v":0.237},{"x":0.55,"y":0.15,"v":0.25},{"x":0.6,"y":0.15,"v":0.264},{"x":0.65,"y":0.15,"v":0.281},{"x":0.7,"y":0.15,"v":0.301},{"x":0.75,"y":0.15,"v":0.325},{"x":0.8,"y":0.15,"v":0.352},{"x":0.85,"y":0.15,"v":0.384},{"x":0.9,"y":0.15,"v":0.425},{"x":0.95,"y":0.15,"v":0.445},
{"x":0.05,"y":0.2,"v":0.188},{"x":0.1,"y":0.2,"v":0.178},{"x":0.15,"y":0.2,"v":0.172},{"x":0.2,"y":0.2,"v":0.168},{"x":0.25,"y":0.2,"v":0.17},{"x":0.3,"y":0.2,"v":0.175},{"x":0.35,"y":0.2,"v":0.184},{"x":0.4,"y":0.2,"v":0.194},{"x":0.45,"y":0.2,"v":0.205},{"x":0.5,"y":0.2,"v":0.222},{"x":0.55,"y":0.2,"v":0.239},{"x":0.6,"y":0.2,"v":0.253},{"x":0.65,"y":0.2,"v":0.268},{"x":0.7,"y":0.2,"v":0.286},{"x":0.75,"y":0.2,"v":0.307},{"x":0.8,"y":0.2,"v":0.333},{"x":0.85,"y":0.2,"v":0.364},{"x":0.9,"y":0.2,"v":0.4},{"x":0.95,"y":0.2,"v":0.44},
{"x":0.05,"y":0.25,"v":0.2},{"x":0.1,"y":0.25,"v":0.188},{"x":0.15,"y":0.25,"v":0.179},{"x":0.2,"y":0.25,"v":0.172},{"x":0.25,"y":0.25,"v":0.168},{"x":0.3,"y":0.25,"v":0.169},{"x":0.35,"y":0.25,"v":0.175},{"x":0.4,"y":0.25,"v":0.185},{"x":0.45,"y":0.25,"v":0.196},{"x":0.5,"y":0.25,"v":0.207},{"x":0.55,"y":0.25,"v":0.224},{"x":0.6,"y":0.25,"v":0.241},{"x":0.65,"y":0.25,"v":0.256},{"x":0.7,"y":0.25,"v":0.272},{"x":0.75,"y":0.25,"v":0.291},{"x":0.8,"y":0.25,"v":0.316},{"x":0.85,"y":0.25,"v":0.345},{"x":0.9,"y":0.25,"v":0.382},{"x":0.95,"y":0.25,"v":0.428},
{"x":0.05,"y":0.3,"v":0.213},{"x":0.1,"y":0.3,"v":0.2},{"x":0.15,"y":0.3,"v":0.189},{"x":0.2,"y":0.3,"v":0.18},{"x":0.25,"y":0.3,"v":0.172},{"x":0.3,"y":0.3,"v":0.168},{"x":0.35,"y":0.3,"v":0.169},{"x":0.4,"y":0.3,"v":0.175},{"x":0.45,"y":0.3,"v":0.186},{"x":0.5,"y":0.3,"v":0.197},{"x":0.55,"y":0.3,"v":0.209},{"x":0.6,"y":0.3,"v":0.226},{"x":0.65,"y":0.3,"v":0.244},{"x":0.7,"y":0.3,"v":0.259},{"x":0.75,"y":0.3,"v":0.277},{"x":0.8,"y":0.3,"v":0.299},{"x":0.85,"y":0.3,"v":0.326},{"x":0.9,"y":0.3,"v":0.36},{"x":0.95,"y":0.3,"v":0.408},
{"x":0.05,"y":0.35,"v":0.231},{"x":0.1,"y":0.35,"v":0.213},{"x":0.15,"y":0.35,"v":0.201},{"x":0.2,"y":0.35,"v":0.19},{"x":0.25,"y":0.35,"v":0.181},{"x":0.3,"y":0.35,"v":0.173},{"x":0.35,"y":0.35,"v":0.168},{"x":0.4,"y":0.35,"v":0.169},{"x":0.45,"y":0.35,"v":0.176},{"x":0.5,"y":0.35,"v":0.186},{"x":0.55,"y":0.35,"v":0.198},{"x":0.6,"y":0.35,"v":0.21},{"x":0.65,"y":0.35,"v":0.228},{"x":0.7,"y":0.35,"v":0.248},{"x":0.75,"y":0.35,"v":0.264},{"x":0.8,"y":0.35,"v":0.284},{"x":0.85,"y":0.35,"v":0.31},{"x":0.9,"y":0.35,"v":0.34},{"x":0.95,"y":0.35,"v":0.382},
{"x":0.05,"y":0.4,"v":0.25},{"x":0.1,"y":0.4,"v":0.232},{"x":0.15,"y":0.4,"v":0.214},{"x":0.2,"y":0.4,"v":0.203},{"x":0.25,"y":0.4,"v":0.191},{"x":0.3,"y":0.4,"v":0.182},{"x":0.35,"y":0.4,"v":0.174},{"x":0.4,"y":0.4,"v":0.168},{"x":0.45,"y":0.4,"v":0.169},{"x":0.5,"y":0.4,"v":0.176},{"x":0.55,"y":0.4,"v":0.187},{"x":0.6,"y":0.4,"v":0.199},{"x":0.65,"y":0.4,"v":0.212},{"x":0.7,"y":0.4,"v":0.231},{"x":0.75,"y":0.4,"v":0.252},{"x":0.8,"y":0.4,"v":0.27},{"x":0.85,"y":0.4,"v":0.294},{"x":0.9,"y":0.4,"v":0.322},{"x":0.95,"y":0.4,"v":0.362},
{"x":0.05,"y":0.45,"v":0.265},{"x":0.1,"y":0.45,"v":0.251},{"x":0.15,"y":0.45,"v":0.233},{"x":0.2,"y":0.45,"v":0.215},{"x":0.25,"y":0.45,"v":0.203},{"x":0.3,"y":0.45,"v":0.192},{"x":0.35,"y":0.45,"v":0.182},{"x":0.4,"y":0.45,"v":0.174},{"x":0.45,"y":0.45,"v":0.168},{"x":0.5,"y":0.45,"v":0.168},{"x":0.55,"y":0.45,"v":0.175},{"x":0.6,"y":0.45,"v":0.187},{"x":0.65,"y":0.45,"v":0.2},{"x":0.7,"y":0.45,"v":0.214},{"x":0.75,"y":0.45,"v":0.235},{"x":0.8,"y":0.45,"v":0.257},{"x":0.85,"y":0.45,"v":0.279},{"x":0.9,"y":0.45,"v":0.305},{"x":0.95,"y":0.45,"v":0.34},
{"x":0.05,"y":0.5,"v":0.282},{"x":0.1,"y":0.5,"v":0.267},{"x":0.15,"y":0.5,"v":0.253},{"x":0.2,"y":0.5,"v":0.234},{"x":0.25,"y":0.5,"v":0.216},{"x":0.3,"y":0.5,"v":0.204},{"x":0.35,"y":0.5,"v":0.193},{"x":0.4,"y":0.5,"v":0.182},{"x":0.45,"y":0.5,"v":0.174},{"x":0.5,"y":0.5,"v":0.168},{"x":0.55,"y":0.5,"v":0.167},{"x":0.6,"y":0.5,"v":0.174},{"x":0.65,"y":0.5,"v":0.187},{"x":0.7,"y":0.5,"v":0.2},{"x":0.75,"y":0.5,"v":0.216},{"x":0.8,"y":0.5,"v":0.239},{"x":0.85,"y":0.5,"v":0.265},{"x":0.9,"y":0.5,"v":0.29},{"x":0.95,"y":0.5,"v":0.322},
{"x":0.05,"y":0.55,"v":0.301},{"x":0.1,"y":0.55,"v":0.285},{"x":0.15,"y":0.55,"v":0.269},{"x":0.2,"y":0.55,"v":0.255},{"x":0.25,"y":0.55,"v":0.236},{"x":0.3,"y":0.55,"v":0.218},{"x":0.35,"y":0.55,"v":0.205},{"x":0.4,"y":0.55,"v":0.193},{"x":0.45,"y":0.55,"v":0.183},{"x":0.5,"y":0.55,"v":0.174},{"x":0.55,"y":0.55,"v":0.168},{"x":0.6,"y":0.55,"v":0.167},{"x":0.65,"y":0.55,"v":0.173},{"x":0.7,"y":0.55,"v":0.185},{"x":0.75,"y":0.55,"v":0.201},{"x":0.8,"y":0.55,"v":0.218},{"x":0.85,"y":0.55,"v":0.243},{"x":0.9,"y":0.55,"v":0.273},{"x":0.95,"y":0.55,"v":0.303},
{"x":0.05,"y":0.6,"v":0.322},{"x":0.1,"y":0.6,"v":0.305},{"x":0.15,"y":0.6,"v":0.288},{"x":0.2,"y":0.6,"v":0.272},{"x":0.25,"y":0.6,"v":0.257},{"x":0.3,"y":0.6,"v":0.238},{"x":0.35,"y":0.6,"v":0.219},{"x":0.4,"y":0.6,"v":0.206},{"x":0.45,"y":0.6,"v":0.194},{"x":0.5,"y":0.6,"v":0.183},{"x":0.55,"y":0.6,"v":0.174},{"x":0.6,"y":0.6,"v":0.167},{"x":0.65,"y":0.6,"v":0.167},{"x":0.7,"y":0.6,"v":0.172},{"x":0.75,"y":0.6,"v":0.185},{"x":0.8,"y":0.6,"v":0.201},{"x":0.85,"y":0.6,"v":0.221},{"x":0.9,"y":0.6,"v":0.25},{"x":0.95,"y":0.6,"v":0.285},
{"x":0.05,"y":0.65,"v":0.345},{"x":0.1,"y":0.65,"v":0.326},{"x":0.15,"y":0.65,"v":0.308},{"x":0.2,"y":0.65,"v":0.291},{"x":0.25,"y":0.65,"v":0.274},{"x":0.3,"y":0.65,"v":0.259},{"x":0.35,"y":0.65,"v":0.239},{"x":0.4,"y":0.65,"v":0.22},{"x":0.45,"y":0.65,"v":0.207},{"x":0.5,"y":0.65,"v":0.195},{"x":0.55,"y":0.65,"v":0.183},{"x":0.6,"y":0.65,"v":0.173},{"x":0.65,"y":0.65,"v":0.167},{"x":0.7,"y":0.65,"v":0.166},{"x":0.75,"y":0.65,"v":0.172},{"x":0.8,"y":0.65,"v":0.184},{"x":0.85,"y":0.65,"v":0.203},{"x":0.9,"y":0.65,"v":0.227},{"x":0.95,"y":0.65,"v":0.262},
{"x":0.05,"y":0.7,"v":0.37},{"x":0.1,"y":0.7,"v":0.35},{"x":0.15,"y":0.7,"v":0.33},{"x":0.2,"y":0.7,"v":0.311},{"x":0.25,"y":0.7,"v":0.293},{"x":0.3,"y":0.7,"v":0.276},{"x":0.35,"y":0.7,"v":0.26},{"x":0.4,"y":0.7,"v":0.24},{"x":0.45,"y":0.7,"v":0.221},{"x":0.5,"y":0.7,"v":0.207},{"x":0.55,"y":0.7,"v":0.194},{"x":0.6,"y":0.7,"v":0.183},{"x":0.65,"y":0.7,"v":0.173},{"x":0.7,"y":0.7,"v":0.167},{"x":0.75,"y":0.7,"v":0.166},{"x":0.8,"y":0.7,"v":0.171},{"x":0.85,"y":0.7,"v":0.185},{"x":0.9,"y":0.7,"v":0.207},{"x":0.95,"y":0.7,"v":0.237},
{"x":0.05,"y":0.75,"v":0.396},{"x":0.1,"y":0.75,"v":0.375},{"x":0.15,"y":0.75,"v":0.354},{"x":0.2,"y":0.75,"v":0.333},{"x":0.25,"y":0.75,"v":0.314},{"x":0.3,"y":0.75,"v":0.295},{"x":0.35,"y":0.75,"v":0.278},{"x":0.4,"y":0.75,"v":0.261},{"x":0.45,"y":0.75,"v":0.241},{"x":0.5,"y":0.75,"v":0.221},{"x":0.55,"y":0.75,"v":0.207},{"x":0.6,"y":0.75,"v":0.195},{"x":0.65,"y":0.75,"v":0.183},{"x":0.7,"y":0.75,"v":0.173},{"x":0.75,"y":0.75,"v":0.166},{"x":0.8,"y":0.75,"v":0.165},{"x":0.85,"y":0.75,"v":0.171},{"x":0.9,"y":0.75,"v":0.188},{"x":0.95,"y":0.75,"v":0.217},
{"x":0.05,"y":0.8,"v":0.422},{"x":0.1,"y":0.8,"v":0.402},{"x":0.15,"y":0.8,"v":0.38},{"x":0.2,"y":0.8,"v":0.357},{"x":0.25,"y":0.8,"v":0.336},{"x":0.3,"y":0.8,"v":0.316},{"x":0.35,"y":0.8,"v":0.297},{"x":0.4,"y":0.8,"v":0.279},{"x":0.45,"y":0.8,"v":0.262},{"x":0.5,"y":0.8,"v":0.241},{"x":0.55,"y":0.8,"v":0.221},{"x":0.6,"y":0.8,"v":0.207},{"x":0.65,"y":0.8,"v":0.194},{"x":0.7,"y":0.8,"v":0.182},{"x":0.75,"y":0.8,"v":0.172},{"x":0.8,"y":0.8,"v":0.166},{"x":0.85,"y":0.8,"v":0.165},{"x":0.9,"y":0.8,"v":0.173},{"x":0.95,"y":0.8,"v":0.197},
{"x":0.05,"y":0.85,"v":0.436},{"x":0.1,"y":0.85,"v":0.427},{"x":0.15,"y":0.85,"v":0.405},{"x":0.2,"y":0.85,"v":0.382},{"x":0.25,"y":0.85,"v":0.36},{"x":0.3,"y":0.85,"v":0.338},{"x":0.35,"y":0.85,"v":0.317},{"x":0.4,"y":0.85,"v":0.298},{"x":0.45,"y":0.85,"v":0.28},{"x":0.5,"y":0.85,"v":0.263},{"x":0.55,"y":0.85,"v":0.242},{"x":0.6,"y":0.85,"v":0.221},{"x":0.65,"y":0.85,"v":0.207},{"x":0.7,"y":0.85,"v":0.194},{"x":0.75,"y":0.85,"v":0.182},{"x":0.8,"y":0.85,"v":0.171},{"x":0.85,"y":0.85,"v":0.165},{"x":0.9,"y":0.85,"v":0.165},{"x":0.95,"y":0.85,"v":0.18},
{"x":0.05,"y":0.9,"v":0.455},{"x":0.1,"y":0.9,"v":0.44},{"x":0.15,"y":0.9,"v":0.429},{"x":0.2,"y":0.9,"v":0.406},{"x":0.25,"y":0.9,"v":0.382},{"x":0.3,"y":0.9,"v":0.36},{"x":0.35,"y":0.9,"v":0.338},{"x":0.4,"y":0.9,"v":0.318},{"x":0.45,"y":0.9,"v":0.299},{"x":0.5,"y":0.9,"v":0.281},{"x":0.55,"y":0.9,"v":0.263},{"x":0.6,"y":0.9,"v":0.242},{"x":0.65,"y":0.9,"v":0.221},{"x":0.7,"y":0.9,"v":0.206},{"x":0.75,"y":0.9,"v":0.192},{"x":0.8,"y":0.9,"v":0.179},{"x":0.85,"y":0.9,"v":0.169},{"x":0.9,"y":0.9,"v":0.164},{"x":0.95,"y":0.9,"v":0.168},
{"x":0.05,"y":0.95,"v":0.472},{"x":0.1,"y":0.95,"v":0.46},{"x":0.15,"y":0.95,"v":0.44},{"x":0.2,"y":0.95,"v":0.427},{"x":0.25,"y":0.95,"v":0.403},{"x":0.3,"y":0.95,"v":0.38},{"x":0.35,"y":0.95,"v":0.358},{"x":0.4,"y":0.95,"v":0.336},{"x":0.45,"y":0.95,"v":0.316},{"x":0.5,"y":0.95,"v":0.297},{"x":0.55,"y":0.95,"v":0.279},{"x":0.6,"y":0.95,"v":0.261},{"x":0.65,"y":0.95,"v":0.239},{"x":0.7,"y":0.95,"v":0.218},{"x":0.75,"y":0.95,"v":0.203},{"x":0.8,"y":0.95,"v":0.188},{"x":0.85,"y":0.95,"v":0.176},{"x":0.9,"y":0.95,"v":0.167},{"x":0.95,"y":0.95,"v":0.165}]},
"concat":[
{"width":175,"height":141.5,"data":{"name":"p1"},"mark":{"type":"rect","width":{"band":1.06},"height":{"band":1.06}},"encoding":{
"x":{"field":"x","type":"ordinal","scale":{"paddingInner":0,"paddingOuter":0},"axis":{"values":[0.2,0.4,0.6,0.8],"format":".1f","title":null}},
"y":{"field":"y","type":"ordinal","scale":{"paddingInner":0,"paddingOuter":0},"axis":{"values":[0.2,0.4,0.6,0.8],"format":".1f","title":"H₂"}},
"color":{"field":"v","type":"quantitative","scale":{"domain":[0.009,0.122],"range":["#352a87","#3d38c8","#3a58f0","#2a7ff5","#1aa0dc","#08b8b8","#35c295","#85c465","#c9bb3a","#fdb62e","#f9fb0e"]},"legend":{"orient":"none","legendX":185,"legendY":0,"title":null,"gradientLength":141.5,"gradientThickness":17.5,"gradientStrokeColor":"#555","gradientStrokeWidth":1,"values":[0.02,0.04,0.06,0.08,0.1,0.12],"format":".2~f"}}}},
{"width":175,"height":141.5,"data":{"name":"p2"},"mark":{"type":"rect","width":{"band":1.06},"height":{"band":1.06}},"encoding":{
"x":{"field":"x","type":"ordinal","scale":{"paddingInner":0,"paddingOuter":0},"axis":{"values":[0.2,0.4,0.6,0.8],"format":".1f","title":null}},
"y":{"field":"y","type":"ordinal","scale":{"paddingInner":0,"paddingOuter":0},"axis":{"values":[0.2,0.4,0.6,0.8],"format":".1f","title":null}},
"color":{"field":"v","type":"quantitative","scale":{"domain":[0.027,0.241],"range":["#352a87","#3d38c8","#3a58f0","#2a7ff5","#1aa0dc","#08b8b8","#35c295","#85c465","#c9bb3a","#fdb62e","#f9fb0e"]},"legend":{"orient":"none","legendX":184,"legendY":0,"title":null,"gradientLength":141.5,"gradientThickness":17.5,"gradientStrokeColor":"#555","gradientStrokeWidth":1,"values":[0.05,0.1,0.15,0.2],"format":".2~f"}}}},
{"width":175,"height":141.5,"data":{"name":"p3"},"mark":{"type":"rect","width":{"band":1.06},"height":{"band":1.06}},"encoding":{
"x":{"field":"x","type":"ordinal","scale":{"paddingInner":0,"paddingOuter":0},"axis":{"values":[0.2,0.4,0.6,0.8],"format":".1f","title":"H₁"}},
"y":{"field":"y","type":"ordinal","scale":{"paddingInner":0,"paddingOuter":0},"axis":{"values":[0.2,0.4,0.6,0.8],"format":".1f","title":"H₂"}},
"color":{"field":"v","type":"quantitative","scale":{"domain":[0.065,0.353],"range":["#352a87","#3d38c8","#3a58f0","#2a7ff5","#1aa0dc","#08b8b8","#35c295","#85c465","#c9bb3a","#fdb62e","#f9fb0e"]},"legend":{"orient":"none","legendX":185,"legendY":0,"title":null,"gradientLength":141.5,"gradientThickness":17.5,"gradientStrokeColor":"#555","gradientStrokeWidth":1,"values":[0.1,0.15,0.2,0.25,0.3,0.35],"format":".2~f"}}}},
{"width":175,"height":141.5,"data":{"name":"p4"},"mark":{"type":"rect","width":{"band":1.06},"height":{"band":1.06}},"encoding":{
"x":{"field":"x","type":"ordinal","scale":{"paddingInner":0,"paddingOuter":0},"axis":{"values":[0.2,0.4,0.6,0.8],"format":".1f","title":"H₁"}},
"y":{"field":"y","type":"ordinal","scale":{"paddingInner":0,"paddingOuter":0},"axis":{"values":[0.2,0.4,0.6,0.8],"format":".1f","title":null}},
"color":{"field":"v","type":"quantitative","scale":{"domain":[0.162,0.472],"range":["#352a87","#3d38c8","#3a58f0","#2a7ff5","#1aa0dc","#08b8b8","#35c295","#85c465","#c9bb3a","#fdb62e","#f9fb0e"]},"legend":{"orient":"none","legendX":184,"legendY":0,"title":null,"gradientLength":141.5,"gradientThickness":17.5,"gradientStrokeColor":"#555","gradientStrokeWidth":1,"values":[0.2,0.25,0.3,0.35,0.4,0.45],"format":".2~f"}}}}
]}
